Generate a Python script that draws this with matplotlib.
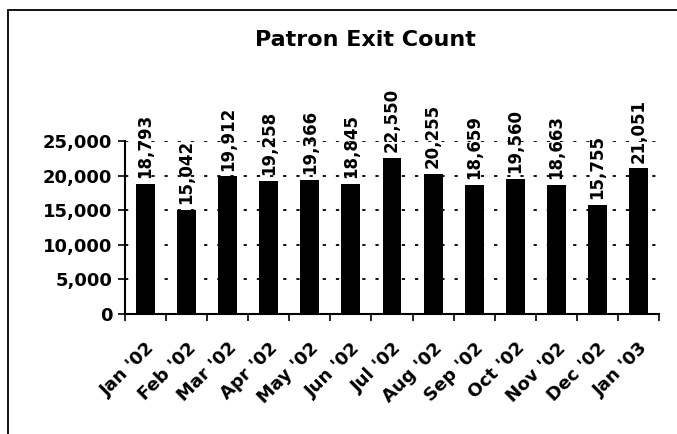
import matplotlib
matplotlib.use("Agg")
import matplotlib.pyplot as plt
from matplotlib.patches import Rectangle
from matplotlib.ticker import FuncFormatter, FixedLocator
import numpy as np

months = ["Jan '02", "Feb '02", "Mar '02", "Apr '02", "May '02", "Jun '02",
          "Jul '02", "Aug '02", "Sep '02", "Oct '02", "Nov '02", "Dec '02", "Jan '03"]
counts = [18793, 15042, 19912, 19258, 19366, 18845, 22550, 20255, 18659,
          19560, 18663, 15755, 21051]
yticks = [0, 5000, 10000, 15000, 20000, 25000]

plt.rcParams['font.family'] = ['DejaVu Sans']
plt.rcParams['font.weight'] = 'bold'

fig = plt.figure(figsize=(6.77, 4.34), dpi=100)
W, H = 677, 434
ax = fig.add_axes([125 / W, 1 - 314 / H, (659 - 125) / W, (314 - 141) / H])

x = np.arange(len(months))
ax.bar(x, counts, width=0.46, color='black', zorder=3)

ax.set_xlim(-0.5, len(months) - 0.5)
ax.set_ylim(0, 25000)
ax.set_yticks(yticks)
ax.yaxis.set_major_formatter(FuncFormatter(lambda v, p: f"{int(v):,}"))
ax.tick_params(axis='y', labelsize=13, length=5, width=1.2, direction='out', pad=4)
for lab in ax.get_yticklabels():
    lab.set_fontweight('bold')

# dotted gridlines
for v in yticks[1:]:
    ax.axhline(v, color='black', lw=1.3, ls=(0, (1.8, 5.5)), zorder=1)

# category labels, ticks at category boundaries
ax.set_xticks(x)
ax.set_xticklabels(months, rotation=45, ha='right', va='top',
                   rotation_mode='anchor', fontsize=13, fontweight='bold')
ax.tick_params(axis='x', which='major', length=0, pad=18)
ax.xaxis.set_minor_locator(FixedLocator(np.arange(-0.5, len(months), 1.0)))
ax.tick_params(axis='x', which='minor', length=5, width=1.2, direction='out')

for s in ['top', 'right']:
    ax.spines[s].set_visible(False)
for s in ['left', 'bottom']:
    ax.spines[s].set_linewidth(1.5)

for xi, c in zip(x, counts):
    ax.annotate(f"{c:,}", (xi, c), xytext=(0, 4), textcoords='offset points',
                rotation=90, ha='center', va='bottom', fontsize=12,
                fontweight='bold', zorder=4, annotation_clip=False)

fig.text(365 / W, 1 - 40 / H, "Patron Exit Count", ha='center', va='center',
         fontsize=16, fontweight='bold')

# chart frame extending off the image
fig.patches.append(Rectangle((8 / W, -0.2), 1.2, 1 - 10 / H + 0.2,
                             transform=fig.transFigure, fill=False,
                             edgecolor='black', lw=1.3))

fig.savefig("out.png", dpi=100)
